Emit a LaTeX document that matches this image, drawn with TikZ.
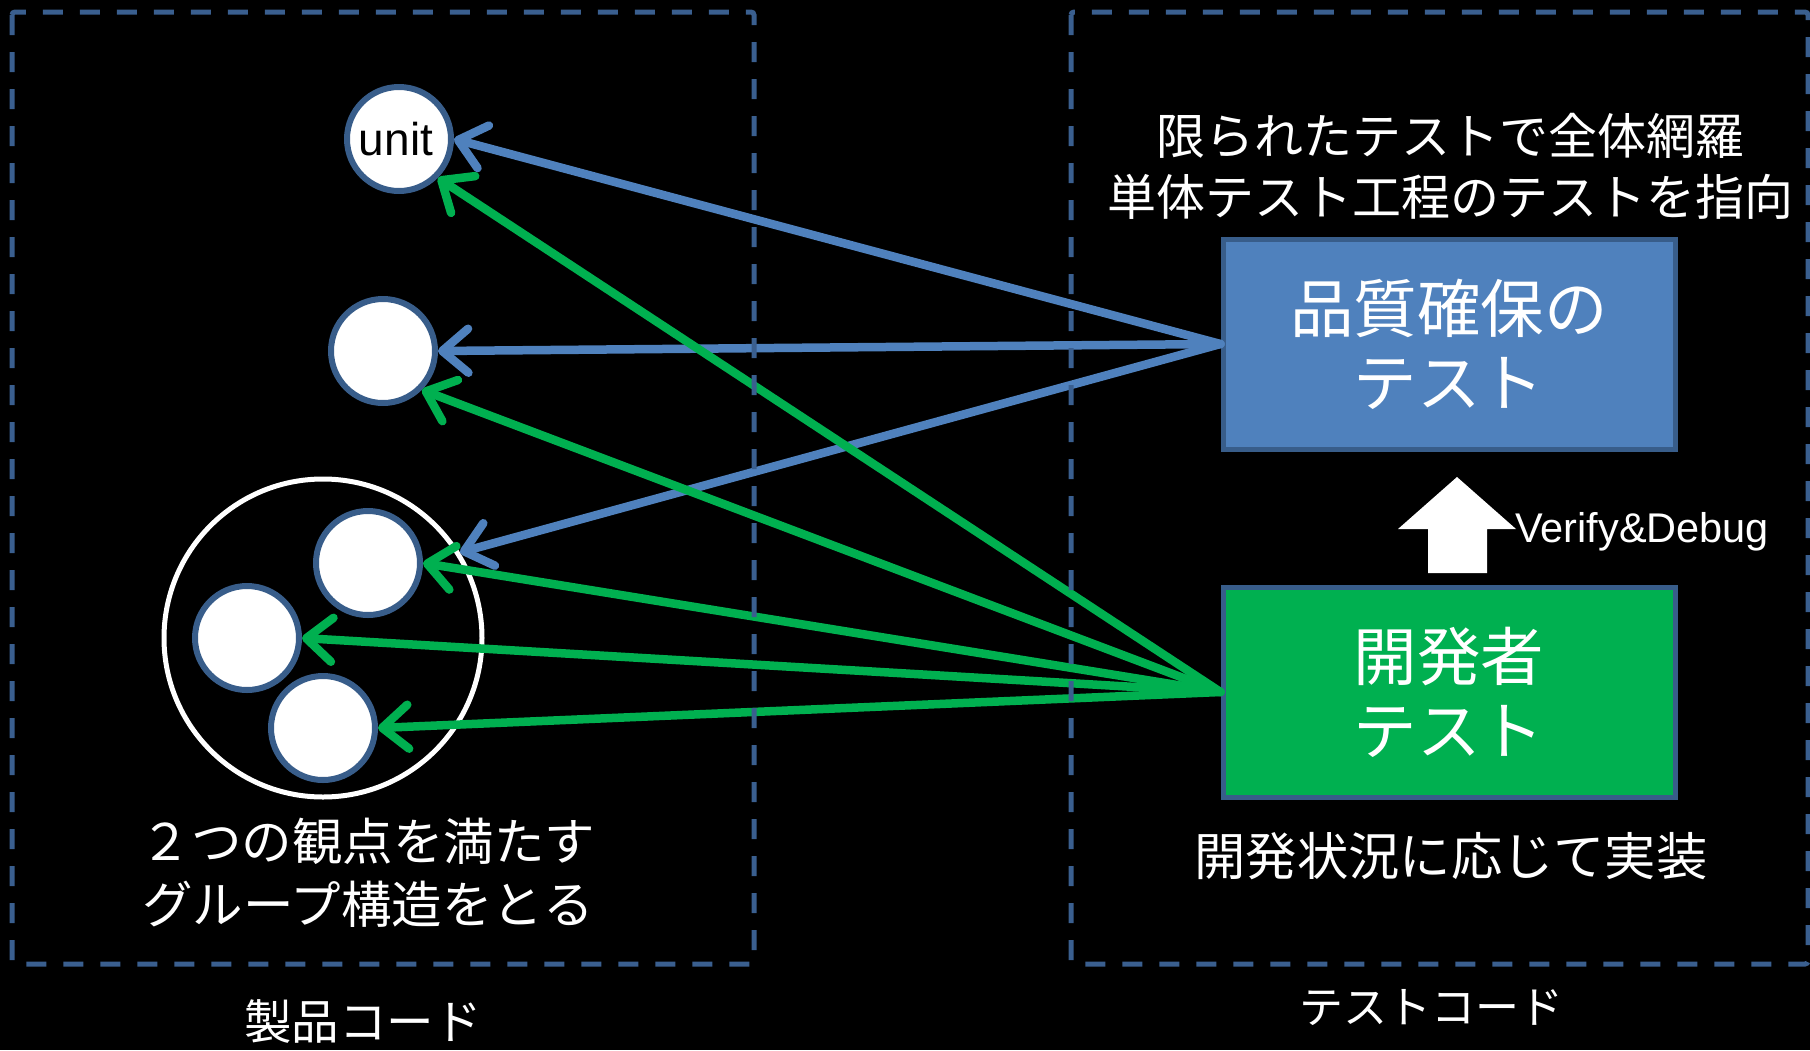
\documentclass[tikz,border=0pt]{standalone}
\usepackage{fontspec}
\setmainfont{Liberation Sans}
\newfontfamily\jp{Noto Sans CJK JP}
\usetikzlibrary{arrows.meta}
\definecolor{bluefill}{HTML}{4F81BD}
\definecolor{boxedge}{HTML}{385D8A}
\definecolor{greenfill}{HTML}{00B050}
\definecolor{dashblue}{HTML}{3A5F8F}
\begin{document}
\begin{tikzpicture}[x=1pt,y=-1pt,
  region/.style={draw=dashblue, line width=5pt, dash pattern=on 20pt off 17pt, rounded corners=3pt},
  unitc/.style={circle, draw=boxedge, fill=white, line width=6pt, minimum size=104pt, inner sep=0pt},
  groupc/.style={circle, draw=white, line width=5pt, minimum size=318pt, inner sep=0pt},
  testbox/.style={rectangle, draw=boxedge, line width=5pt, minimum width=452pt, minimum height=210pt, text=white, align=center, font=\jp\fontsize{63.5}{74}\selectfont},
  label/.style={text=white, align=center, inner sep=0pt},
  barrow/.style={draw=bluefill, line width=8.5pt, line cap=round, -{Straight Barb[length=26pt,width=44pt,round]}},
  garrow/.style={draw=greenfill, line width=8.5pt, line cap=round, -{Straight Barb[length=26pt,width=44pt,round]}}
]
\fill[black] (0,0) rectangle (1810,1050);
\useasboundingbox (0,0) rectangle (1810,1050);

% circles
\node[groupc] (grp) at (323,638) {};
\node[unitc, font=\fontsize{46}{50}\selectfont] (unit) at (399,139) {\hspace*{-6pt}unit};
\node[unitc] (c2) at (383,351) {};
\node[unitc] (s1) at (368,563) {};
\node[unitc] (s2) at (247,638) {};
\node[unitc] (s3) at (323,728) {};

% boxes
\node[testbox, fill=bluefill] (qa) at (1449,344) {品質確保の\\テスト};
\node[testbox, fill=greenfill] (dev) at (1449,692) {開発者\\テスト};

% texts
\node[label, font=\jp\fontsize{49}{61}\selectfont] (top) at (1450,166) {限られたテストで全体網羅\\単体テスト工程のテストを指向};
\node[label, font=\jp\fontsize{51.3}{60}\selectfont] (impl) at (1451,856) {開発状況に応じて実装};
\node[label, font=\jp\fontsize{50.5}{63}\selectfont] (grpt) at (368,873) {２つの観点を満たす\\グループ構造をとる};
\node[label, font=\jp\fontsize{47.5}{50}\selectfont] (prod) at (363,1021) {製品コード};
\node[label, font=\jp\fontsize{44}{50}\selectfont] (tcode) at (1431,1008) {テストコード};

% up arrow
\fill[white] (1457,477) -- (1516,529) -- (1487,529) -- (1487,573) -- (1428,573) -- (1428,529) -- (1398,529) -- cycle;
\node[label, anchor=west, font=\fontsize{41.5}{44}\selectfont] (vd) at (1515,532) {Verify\&Debug};

% blue arrows
\draw[barrow] (qa.west) -- (unit.east);
\draw[barrow] (qa.west) -- (c2.east);
\draw[barrow] (qa.west) -- (grp.32);

% green arrows
\draw[garrow] (dev.west) -- (unit.south east);
\draw[garrow] (dev.west) -- (c2.south east);
\draw[garrow] (dev.west) -- (s1.east);
\draw[garrow] (dev.west) -- (s2.east);
\draw[garrow] (dev.west) -- (s3.east);

% regions (drawn on top)
\draw[region] (12,12) rectangle (754,964);
\draw[region] (1071,12) rectangle (1808,964);
\end{tikzpicture}
\end{document}
